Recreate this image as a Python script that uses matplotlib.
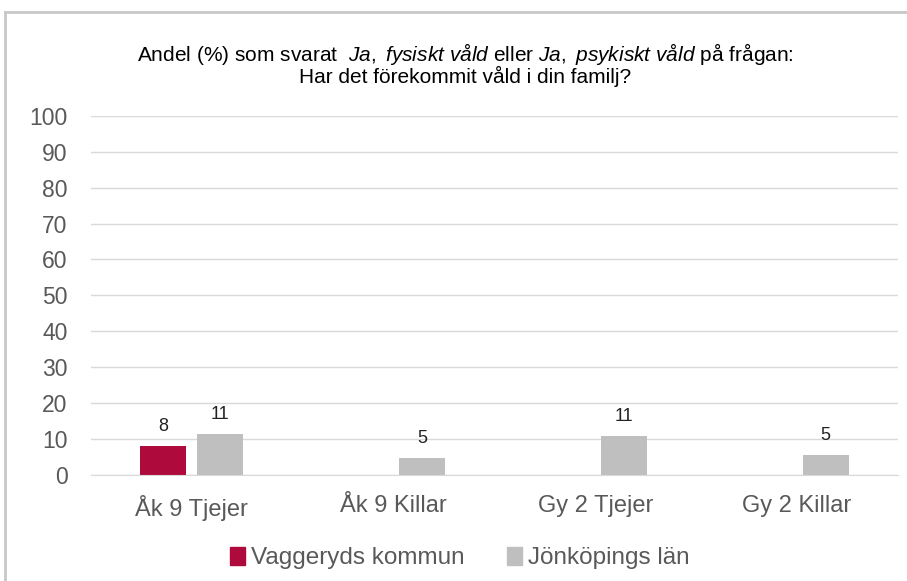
import matplotlib.pyplot as plt
import numpy as np
from matplotlib.lines import Line2D
from matplotlib.patches import Patch

plt.rcParams['font.family'] = ['Liberation Sans', 'DejaVu Sans']
plt.rcParams['mathtext.fontset'] = 'custom'
plt.rcParams['mathtext.rm'] = 'Liberation Sans'
plt.rcParams['mathtext.it'] = 'Liberation Sans:italic'

categories = ['Åk 9 Tjejer', 'Åk 9 Killar', 'Gy 2 Tjejer', 'Gy 2 Killar']
vaggeryd = [7.9, np.nan, np.nan, np.nan]
jonkoping = [11.3, 4.6, 10.8, 5.4]
series_names = ['Vaggeryds kommun', 'Jönköpings län']
colors = ['#ae0a3c', '#bfbfbf']

fig = plt.figure(figsize=(9.07, 5.81), dpi=100)
ax = fig.add_axes([91/907, 1 - 474.5/581, 807/907, 358.5/581])

x = np.arange(len(categories))
w = 0.228
off = 0.141
b1 = ax.bar(x - off, vaggeryd, w, color=colors[0])
b2 = ax.bar(x + off, jonkoping, w, color=colors[1])

for bars, vals in [(b1, vaggeryd), (b2, jonkoping)]:
    for rect, v in zip(bars, vals):
        if np.isnan(v):
            continue
        ax.text(rect.get_x() + rect.get_width() / 2, v + 3.0, '%.0f' % v,
                ha='center', va='bottom', fontsize=13, color='#222222')

ax.set_xlim(-0.5, len(categories) - 0.5)
ax.set_ylim(0, 100)
ax.set_yticks(range(0, 101, 10))
ax.set_xticks(x)
ax.set_xticklabels(categories)
ax.yaxis.grid(True, color='#d9d9d9', linewidth=1)
ax.set_axisbelow(True)
for s in ['top', 'right', 'left']:
    ax.spines[s].set_visible(False)
ax.spines['bottom'].set_color('#d9d9d9')
ax.tick_params(axis='both', length=0, labelsize=16.5, labelcolor='#595959')
ax.tick_params(axis='x', labelsize=17, pad=15)
ax.tick_params(axis='y', pad=17)

title = ('Andel (%) som svarat  $\\it{Ja,\\ fysiskt\\ våld}$ eller $\\it{Ja,\\ psykiskt\\ våld}$ på frågan:\n'
         'Har det förekommit våld i din familj?')
fig.text(0.513, 1 - 64/581, title, ha='center', va='center', fontsize=15, linespacing=0.88)

handles = [Patch(color=c) for c in colors]
fig.legend(handles, series_names, loc='center', bbox_to_anchor=(0.507, 1 - 558/581),
           ncol=2, frameon=False, fontsize=17.5, handlelength=0.6, handleheight=0.8,
           handletextpad=0.25, columnspacing=1.75, labelcolor='#595959')

# outer frame
fig.add_artist(Line2D([5/907, 5/907], [0, 1 - 12/581], color='#c8c8c8', lw=2, transform=fig.transFigure))
fig.add_artist(Line2D([5/907, 1], [1 - 12/581, 1 - 12/581], color='#c8c8c8', lw=2, transform=fig.transFigure))

fig.savefig('out.png', dpi=100)
